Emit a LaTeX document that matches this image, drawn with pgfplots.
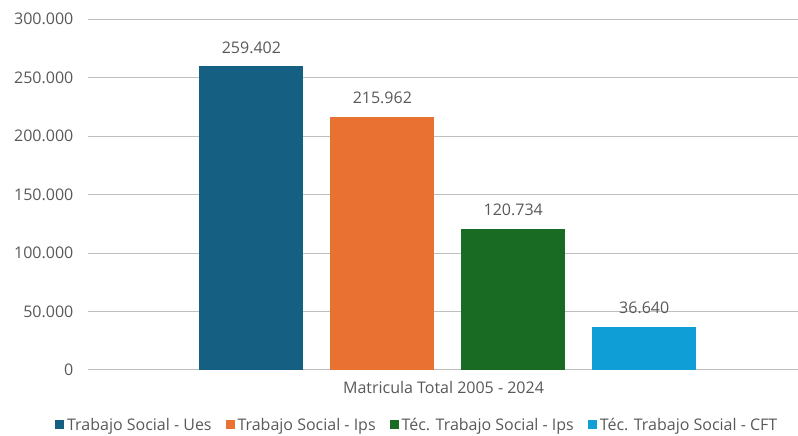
\documentclass[border=0pt]{standalone}
\usepackage{pgfplots}
\pgfplotsset{compat=1.18}
\usepackage{fontspec}
\setmainfont{Open Sans}
\definecolor{cA}{HTML}{156082}
\definecolor{cB}{HTML}{E97132}
\definecolor{cC}{HTML}{196B24}
\definecolor{cD}{HTML}{0F9ED5}
\definecolor{txt}{HTML}{595959}
\definecolor{grid}{HTML}{D9D9D9}
\begin{document}
\begin{tikzpicture}[x=1bp,y=1bp]
\path (0,0) rectangle (798,435);
\begin{axis}[
  at={(88bp,65bp)}, anchor=south west,
  scale only axis, width=710bp, height=351bp,
  axis lines=left,
  axis line style={draw=none},
  tick style={draw=none},
  ymin=0, ymax=300000,
  xmin=-360, xmax=350,
  ytick={0,50000,100000,150000,200000,250000,300000},
  yticklabels={0,50.000,100.000,150.000,200.000,250.000,300.000},
  xtick=\empty,
  ymajorgrids,
  grid style={grid, line width=0.75bp},
  yticklabel style={font=\fontsize{16bp}{19bp}\selectfont, text=txt, xshift=-9bp},
  scaled y ticks=false,
  ybar=27bp, bar width=104bp,
  point meta=explicit symbolic,
  nodes near coords,
  nodes near coords style={font=\fontsize{16bp}{19bp}\selectfont, text=txt, anchor=south, inner sep=0pt, yshift=13bp},
  legend style={at={(axis description cs:0.464,-0.157)}, anchor=center, draw=none, fill=none,
    font=\fontsize{16bp}{19bp}\selectfont, text=txt, legend columns=4,
    /tikz/every even column/.append style={column sep=12bp},
    /tikz/every odd column/.append style={column sep=1bp}},
  legend image code/.code={\fill[#1] (0bp,-4.5bp) rectangle (9bp,4.5bp);},
  clip=false,
]
\addplot[fill=cA, draw=none] coordinates {(0,259402) [259.402]};
\addplot[fill=cB, draw=none] coordinates {(0,215962) [215.962]};
\addplot[fill=cC, draw=none] coordinates {(0,120734) [120.734]};
\addplot[fill=cD, draw=none] coordinates {(0,36640) [36.640]};
\legend{Trabajo Social - Ues, Trabajo Social - Ips, Téc. Trabajo Social - Ips, Téc. Trabajo Social - CFT}
\node[font=\fontsize{16bp}{19bp}\selectfont, text=txt] at (axis description cs:0.501,-0.051) {Matricula Total 2005 - 2024};
\end{axis}
\end{tikzpicture}
\end{document}
